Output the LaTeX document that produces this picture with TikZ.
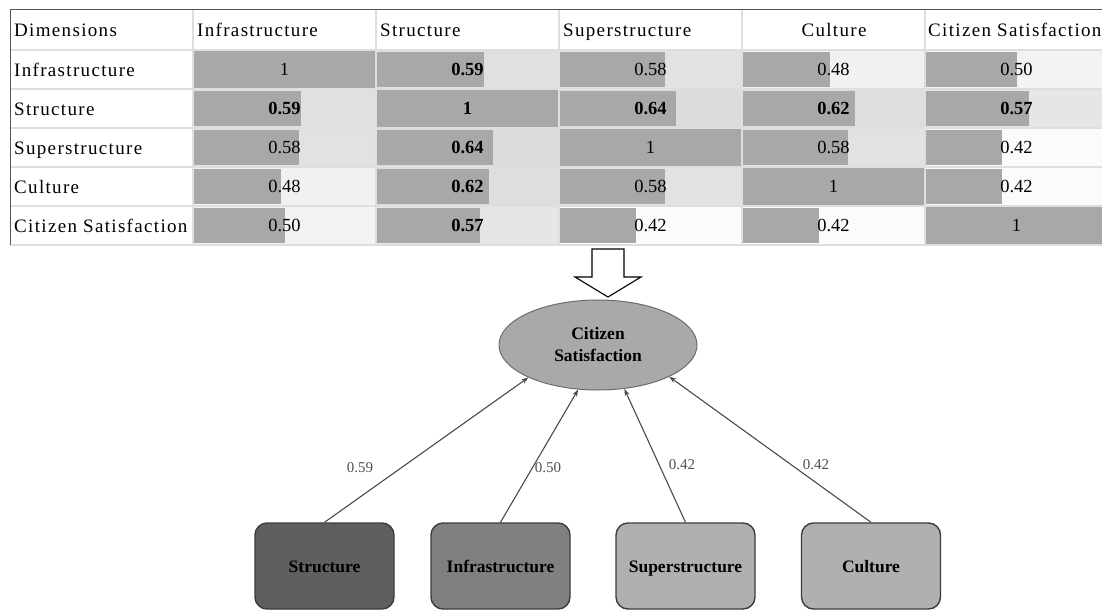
\documentclass[tikz,border=0pt]{standalone}
\usepackage{fontspec}
\setmainfont{Liberation Serif}
\newfontfamily\tabfont[LetterSpace=7]{Liberation Serif}
\usetikzlibrary{shapes.geometric,arrows.meta}
\definecolor{barc}{HTML}{A8A8A8}
\definecolor{gridc}{HTML}{DEDEDE}
\definecolor{framec}{HTML}{555555}
\definecolor{bgA}{HTML}{DCDCDC}
\definecolor{bgB}{HTML}{DEDEDE}
\definecolor{bgC}{HTML}{E0E0E0}
\definecolor{bgD}{HTML}{E2E2E2}
\definecolor{bgE}{HTML}{E6E6E6}
\definecolor{bgF}{HTML}{F3F3F3}
\definecolor{bgG}{HTML}{F1F1F1}
\definecolor{bgH}{HTML}{FBFBFB}
\definecolor{boxline}{HTML}{3C3C3C}
\definecolor{connc}{HTML}{4A4A4A}
\definecolor{labc}{HTML}{505050}
\definecolor{ellc}{HTML}{A9A9A9}
\definecolor{boxS}{HTML}{5F5F5F}
\definecolor{boxI}{HTML}{808080}
\definecolor{boxU}{HTML}{B0B0B0}
\newcommand\mycell[6]{%
  \fill[#5] (#2+1,#3+1) rectangle (#2+182,#3+38);
  \fill[barc] (#2+1,#3+2) rectangle ({#2+1+#4*181},#3+37);
  \node[#6] (#1) at (#2+91.5,#3+19.5) {#4};
}
\begin{document}
\begin{tikzpicture}[x=1pt,y=-1pt,
  lab/.style={anchor=west, inner sep=0pt, text height=13pt, text depth=0pt,
    font=\tabfont\fontsize{19}{22}\selectfont},
  val/.style={inner sep=0pt, text height=12pt, text depth=0pt,
    font=\fontsize{18.5}{20}\selectfont},
  valb/.style={val, font=\bfseries\fontsize{18.5}{20}\selectfont},
  box/.style={draw=boxline, line width=1.4pt, rounded corners=12pt,
    minimum width=139pt, minimum height=86pt, inner sep=0pt,
    text height=12pt, text depth=0pt,
    font=\bfseries\fontsize{17.5}{20}\selectfont},
  conn/.style={draw=connc, line width=1.1pt, -{Stealth[length=7pt,width=5pt]}},
  wlab/.style={text=labc, inner sep=0pt, font=\fontsize{15}{18}\selectfont}]
\useasboundingbox[fill=white] (0,0) rectangle (1102,610);

% ---- table cells ----
\mycell{v11}{193}{50}{1}{barc}{val}
\mycell{v12}{376}{50}{0.59}{bgC}{valb}
\mycell{v13}{559}{50}{0.58}{bgD}{val}
\mycell{v14}{742}{50}{0.48}{bgG}{val}
\mycell{v15}{925}{50}{0.50}{bgF}{val}

\mycell{v21}{193}{89}{0.59}{bgC}{valb}
\mycell{v22}{376}{89}{1}{barc}{valb}
\mycell{v23}{559}{89}{0.64}{bgA}{valb}
\mycell{v24}{742}{89}{0.62}{bgB}{valb}
\mycell{v25}{925}{89}{0.57}{bgE}{valb}

\mycell{v31}{193}{128}{0.58}{bgD}{val}
\mycell{v32}{376}{128}{0.64}{bgA}{valb}
\mycell{v33}{559}{128}{1}{barc}{val}
\mycell{v34}{742}{128}{0.58}{bgD}{val}
\mycell{v35}{925}{128}{0.42}{bgH}{val}

\mycell{v41}{193}{167}{0.48}{bgG}{val}
\mycell{v42}{376}{167}{0.62}{bgB}{valb}
\mycell{v43}{559}{167}{0.58}{bgD}{val}
\mycell{v44}{742}{167}{1}{barc}{val}
\mycell{v45}{925}{167}{0.42}{bgH}{val}

\mycell{v51}{193}{206}{0.50}{bgF}{val}
\mycell{v52}{376}{206}{0.57}{bgE}{valb}
\mycell{v53}{559}{206}{0.42}{bgH}{val}
\mycell{v54}{742}{206}{0.42}{bgH}{val}
\mycell{v55}{925}{206}{1}{barc}{val}

% ---- grid ----
\foreach \gx in {193,376,559,742,925}
  \draw[gridc, line width=1.2pt] (\gx,10) -- (\gx,245);
\foreach \gy in {50,89,128,167,206,245}
  \draw[gridc, line width=1.2pt] (10,\gy) -- (1102,\gy);
\draw[framec, line width=1pt] (10,245) -- (10,10) -- (1102,10);

% ---- header & row labels ----
\node[lab] (h0) at (14,30) {Dimensions};
\node[lab] (h1) at (197,30) {Infrastructure};
\node[lab] (h2) at (380,30) {Structure};
\node[lab] (h3) at (563,30) {Superstructure};
\node[lab, anchor=center] (h4) at (834,30) {Culture};
\node[lab] (h5) at (928,30) {Citizen Satisfaction};

\node[lab] (r1) at (14,69.5) {Infrastructure};
\node[lab] (r2) at (14,108.5) {Structure};
\node[lab] (r3) at (14,147.5) {Superstructure};
\node[lab] (r4) at (14,186.5) {Culture};
\node[lab] (r5) at (14,225.5) {Citizen Satisfaction};

% ---- big down arrow ----
\draw[black, line width=1.1pt, fill=white]
  (592,249) -- (624,249) -- (624,277) -- (641,277) -- (608,297)
  -- (575,277) -- (592,277) -- cycle;

% ---- path diagram ----
\node[ellipse, draw=gray!85!black, fill=ellc, line width=1pt,
      minimum width=198pt, minimum height=90pt, inner sep=0pt,
      align=center, font=\bfseries\fontsize{17.5}{22}\selectfont]
      (cs) at (598,345) {Citizen\\Satisfaction};

\node[box, fill=boxS] (bS) at (324.5,566) {Structure};
\node[box, fill=boxI] (bI) at (500.5,566) {Infrastructure};
\node[box, fill=boxU] (bU) at (685.5,566) {Superstructure};
\node[box, fill=boxU] (bC) at (871,566) {Culture};

\draw[conn] (bS.north) -- (cs.205);
\draw[conn] (bI.north) -- (cs.246);
\draw[conn] (bU.north) -- (cs.301);
\draw[conn] (bC.north) -- (cs.336);

\node[wlab] (l1) at (360,468) {0.59};
\node[wlab] (l2) at (548,468) {0.50};
\node[wlab] (l3) at (682,465) {0.42};
\node[wlab] (l4) at (816,465) {0.42};
\end{tikzpicture}
\end{document}
